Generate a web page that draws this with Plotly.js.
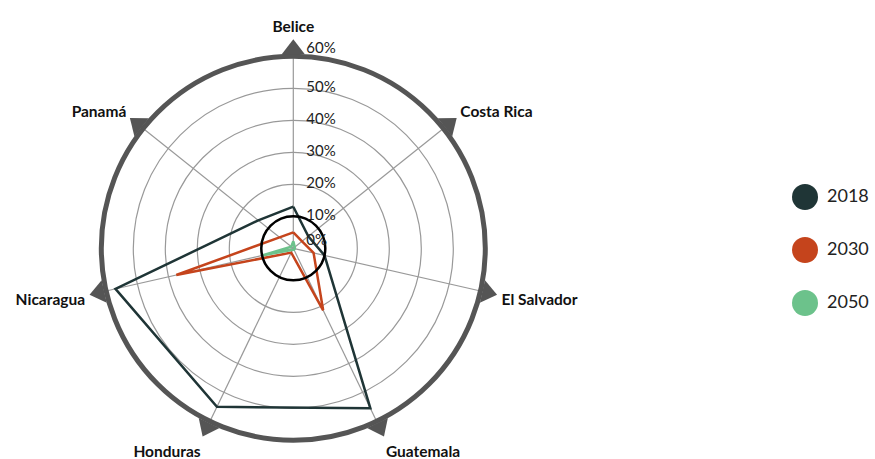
<!DOCTYPE html>
<html>
<head>
<meta charset="utf-8">
<script src="https://cdn.plot.ly/plotly-3.0.1.min.js"></script>
<style>html,body{margin:0;padding:0;background:#fff;}#chart{width:875px;height:459px;}</style>
</head>
<body>
<div id="chart"></div>
<script>
// ---- data ----
const categories = ['Belice', 'Costa Rica', 'El Salvador', 'Guatemala', 'Honduras', 'Nicaragua', 'Panamá'];
const seriesNames = ['2018', '2030', '2050'];
const values2018 = [13, 6, 10, 55.5, 55, 57, 14];
const values2030 = [5, 3.5, 6.5, 21.5, 1.5, 37.5, 5.5];
const values2050 = [2.2, 0.6, 0.5, 0.5, 0.5, 10, 0.8];
const radialTicks = [0, 10, 20, 30, 40, 50, 60];
const radialMax = 60;
const highlightTick = 10;

// ---- style / geometry ----
const colors = ['#1f3536', '#c5441c', '#6cc28b'];
const FONT = 'Lato, "Open Sans", sans-serif';
const W = 875, H = 459;
const CX = 293.3, CY = 248.3, RAD = 192;
function domainFor(cx, cy, r) {
  return {x: [(cx - r) / W, (cx + r) / W], y: [(H - (cy + r)) / H, (H - (cy - r)) / H]};
}
const dom = domainFor(CX, CY, RAD);            // main chart
const domTri = domainFor(CX, CY, RAD + 7);     // outward triangles ring
const domLbl = domainFor(CX + 13, CY, RAD);    // radial tick labels, offset right of the axis

const series = [values2018, values2030, values2050];
const closed = a => a.concat([a[0]]);

const traces = [];
series.forEach((vals, i) => {
  traces.push({
    type: 'scatterpolar', subplot: 'polar',
    r: closed(vals), theta: closed(categories),
    mode: 'lines', name: seriesNames[i],
    line: {color: colors[i], width: 2.5},
    showlegend: false, hoverinfo: 'skip'
  });
});

// highlight ring subplot (dummy trace so the subplot exists)
traces.push({type: 'scatterpolar', subplot: 'polar2', r: [], theta: [], mode: 'lines', showlegend: false, hoverinfo: 'skip'});

// triangle markers on the outer ring, one per category
traces.push({
  type: 'scatterpolar', subplot: 'polar3',
  r: categories.map(() => radialMax),
  theta: categories,
  mode: 'markers',
  marker: {symbol: 'triangle-up', size: 20, color: '#555555',
           angle: categories.map((c, i) => i * 360 / categories.length), line: {width: 0}},
  cliponaxis: false, showlegend: false, hoverinfo: 'skip'
});

// radial tick labels
traces.push({
  type: 'scatterpolar', subplot: 'polar4',
  r: radialTicks, theta: radialTicks.map(() => categories[0]),
  mode: 'text', text: radialTicks.map(t => t + '%'),
  textposition: radialTicks.map((t, i) => (i === 0 || i === radialTicks.length - 1) ? 'top right' : 'middle right'),
  textfont: {family: FONT, size: 15, color: '#222'},
  cliponaxis: false, showlegend: false, hoverinfo: 'skip'
});

// custom legend (big circles + labels)
traces.push({
  type: 'scatter', xaxis: 'x', yaxis: 'y',
  x: seriesNames.map(() => 0), y: seriesNames.map((s, i) => i),
  mode: 'markers', marker: {size: 26, color: colors},
  showlegend: false, hoverinfo: 'skip', cliponaxis: false
});
traces.push({
  type: 'scatter', xaxis: 'x2', yaxis: 'y',
  x: seriesNames.map(() => 0), y: seriesNames.map((s, i) => i),
  mode: 'text', text: seriesNames, textposition: 'middle right',
  textfont: {family: FONT, size: 18, color: '#222'},
  showlegend: false, hoverinfo: 'skip', cliponaxis: false
});

const hiddenAngular = {direction: 'clockwise', rotation: 90, showgrid: false, showline: false, showticklabels: false, ticks: ''};
const hiddenRadial = {range: [0, radialMax], showgrid: false, showline: false, showticklabels: false, ticks: ''};

const layout = {
  width: W, height: H,
  margin: {l: 0, r: 0, t: 0, b: 0},
  paper_bgcolor: '#fff', plot_bgcolor: 'rgba(0,0,0,0)',
  font: {family: FONT, color: '#222'},
  showlegend: false,
  polar: {
    domain: dom,
    bgcolor: 'rgba(0,0,0,0)',
    radialaxis: {
      range: [0, radialMax], tickvals: radialTicks, showticklabels: false,
      ticks: '', showline: false, gridcolor: '#999999', gridwidth: 1.2, angle: 90
    },
    angularaxis: {
      type: 'category', categoryorder: 'array', categoryarray: categories,
      direction: 'clockwise', rotation: 90,
      showline: true, linecolor: '#555555', linewidth: 5,
      gridcolor: '#999999', gridwidth: 1.2,
      ticks: 'outside', ticklen: 16, tickcolor: 'rgba(0,0,0,0)',
      tickfont: {family: FONT, size: 15.5, color: '#111', weight: 700}
    }
  },
  polar2: {
    domain: dom, bgcolor: 'rgba(0,0,0,0)',
    radialaxis: {range: [0, radialMax], tickvals: [highlightTick], showticklabels: false,
                 ticks: '', showline: false, gridcolor: '#000', gridwidth: 2.5},
    angularaxis: hiddenAngular
  },
  polar3: {
    domain: domTri, bgcolor: 'rgba(0,0,0,0)',
    radialaxis: hiddenRadial,
    angularaxis: Object.assign({type: 'category', categoryorder: 'array', categoryarray: categories}, hiddenAngular)
  },
  polar4: {
    domain: domLbl, bgcolor: 'rgba(0,0,0,0)',
    radialaxis: hiddenRadial,
    angularaxis: Object.assign({type: 'category', categoryorder: 'array', categoryarray: categories}, hiddenAngular)
  },
  xaxis: {domain: [0.86, 1], range: [-3.815, 5.085], visible: false, fixedrange: true},
  xaxis2: {domain: [0.86, 1], range: [-5.414, 3.486], visible: false, fixedrange: true, overlaying: 'x'},
  yaxis: {domain: [0, 1], range: [4.943, -3.717], visible: false, fixedrange: true}
};

Plotly.newPlot('chart', traces, layout, {displayModeBar: false, staticPlot: true});
</script>
</body>
</html>
